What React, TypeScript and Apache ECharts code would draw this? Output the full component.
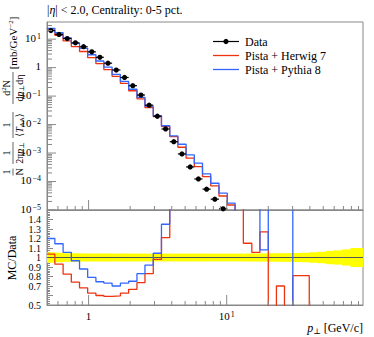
import React, { useEffect, useRef } from 'react';
import * as echarts from 'echarts';

const FONT = "'Liberation Serif', 'DejaVu Serif', serif";

// bin edges in p_perp [GeV/c]
const binEdges = [0.5, 0.57, 0.654, 0.75, 0.86, 0.985, 1.13, 1.29, 1.48, 1.7, 1.95, 2.24, 2.56, 2.94, 3.37, 3.87, 4.43, 5.08, 5.83, 6.68, 7.66, 8.79, 10.1, 11.5, 13.2, 15.2, 17.4, 20.0, 22.9, 26.2, 30.1, 34.5, 39.6, 45.4, 52.1, 59.8, 68.6, 78.7, 90.3, 97];

// main panel values [mb/GeV^-2]
const dataValues = [20.0, 14.7, 10.5, 7.41, 5.41, 3.58, 2.30, 1.43, 0.824, 0.450, 0.232, 0.109, 0.048, 0.0196, 0.0070, 0.0025, 9.3e-4, 3.25e-4, 1.23e-4, 5.4e-5, 2.4e-5, 1.1e-5];
const herwigValues = [20.7, 13.7, 8.66, 5.48, 3.68, 2.24, 1.38, 0.844, 0.490, 0.281, 0.154, 0.080, 0.0398, 0.0192, 8.5e-3, 3.8e-3, 1.6e-3, 6.6e-4, 3.33e-4, 1.49e-4, 7.0e-5, 3.1e-5, 1.5e-5, 6e-6];
const pythiaValues = [24.0, 16.8, 11.1, 7.16, 4.76, 2.83, 1.71, 1.04, 0.577, 0.329, 0.174, 0.0905, 0.0442, 0.0205, 9.1e-3, 4.0e-3, 2.04e-3, 8.6e-4, 4.4e-4, 1.85e-4, 8.7e-5, 3.9e-5, 1.73e-5, 7e-6];

// ratio panel MC/Data
const herwigRatio = [1.035, 0.93, 0.825, 0.74, 0.68, 0.625, 0.60, 0.59, 0.595, 0.625, 0.665, 0.735, 0.83, 0.98, 1.21, 1.52, 1.72, 2.0, 2.7, 2.8, 2.9, 2.8, 3.0, 3.0, 1.15, 1.055, 1.27, 0, 0.70, 0, 0.81, 0.81, 0, 0, 0, 0, 0, 0, 0];
const pythiaRatio = [1.20, 1.145, 1.055, 0.966, 0.879, 0.79, 0.745, 0.73, 0.70, 0.73, 0.75, 0.83, 0.92, 1.045, 1.35, 1.6, 2.2, 2.6, 3.6, 3.4, 3.6, 3.5, 3.5, 3.0, 3.0, 2.0, 1.08, 2.5, 2.5, 2.5, 0, 0, 0, 0, 0, 0, 0, 0, 0];
// relative data uncertainty (yellow band)
const dataRelErr = [0.055, 0.05, 0.046, 0.044, 0.043, 0.042, 0.042, 0.041, 0.041, 0.041, 0.041, 0.041, 0.041, 0.041, 0.041, 0.041, 0.041, 0.041, 0.041, 0.041, 0.041, 0.041, 0.041, 0.041, 0.042, 0.042, 0.043, 0.044, 0.045, 0.046, 0.048, 0.05, 0.055, 0.06, 0.07, 0.075, 0.085, 0.1, 0.1];

// axis tick / label positions
const xLabelValues = [1, 10];
const yLabelExponents = [-5, -4, -3, -2, -1, 0, 1];
const xMajorTicks = [1, 10];
const xMinorTicks = [0.6, 0.7, 0.8, 0.9, 2, 3, 4, 5, 6, 7, 8, 9, 20, 30, 40, 50, 60, 70, 80, 90];
const yMajorDecades = [-5, -4, -3, -2, -1, 0, 1];
const yMinorMultipliers = [2, 3, 4, 5, 6, 7, 8, 9];

const RED = '#EE3311';
const BLUE = '#3366FF';
const Y_MIN = 1e-5;
const Y_MAX = 40;

const hist = (vals: number[]) =>
  vals.map((v, i) => [binEdges[i], v]).concat([[binEdges[vals.length], vals[vals.length - 1]]]);

const expLabel = (n: number) => (n === 0 ? '1' : '10{sup|' + (n < 0 ? '\u2212' : '') + Math.abs(n) + '}');

const decadeFmt = (v: number) => {
  const l = Math.log10(v);
  const n = Math.round(l);
  if (Math.abs(l - n) > 1e-3) return '';
  return expLabel(n);
};

const supRich = {
  sup: { fontSize: 8, fontFamily: FONT, verticalAlign: 'top', lineHeight: 8, padding: [0, 0, 6, 1], color: '#000' },
};

function tickItems(yRef: number, withY: boolean) {
  const items: number[][] = [];
  xMajorTicks.forEach((v) => items.push([v, yRef, 10, 0]));
  xMinorTicks.forEach((v) => items.push([v, yRef, 4, 0]));
  if (withY) {
    yMajorDecades.forEach((d) => {
      items.push([1, Math.pow(10, d) * 1.0001, 9, 1]);
      yMinorMultipliers.forEach((m) => {
        const v = m * Math.pow(10, d);
        if (v < Y_MAX) items.push([1, v, 5, 1]);
      });
    });
  }
  return items;
}

const tickRender = (params: any, api: any) => {
  const cs = params.coordSys;
  const len = api.value(2);
  const kind = api.value(3);
  const p = api.coord([api.value(0), api.value(1)]);
  let shape;
  if (kind === 0) {
    const yb = cs.y + cs.height;
    shape = { x1: p[0], y1: yb, x2: p[0], y2: yb - len };
  } else {
    shape = { x1: cs.x, y1: p[1], x2: cs.x + len, y2: p[1] };
  }
  return { type: 'line', shape, style: { stroke: '#888', lineWidth: 1 } };
};

const smallRich = {
  i: { fontStyle: 'italic', fontSize: 10, fontFamily: FONT },
  sub: { fontSize: 7, fontFamily: FONT, verticalAlign: 'bottom', padding: [4, 0, 0, 0] },
  sup: { fontSize: 7, fontFamily: FONT, verticalAlign: 'top', padding: [0, 0, 4, 0] },
};

function frac(cx: number, num: string, den: string, w: number) {
  return [
    { type: 'text', x: cx, y: -1.2, style: { text: num, fontSize: 10, fontFamily: FONT, fill: '#000', align: 'center', verticalAlign: 'bottom', rich: smallRich } },
    { type: 'line', shape: { x1: cx - w / 2, y1: 0, x2: cx + w / 2, y2: 0 }, style: { stroke: '#000', lineWidth: 0.6 } },
    { type: 'text', x: cx, y: 1.2, style: { text: den, fontSize: 10, fontFamily: FONT, fill: '#000', align: 'center', verticalAlign: 'top', rich: smallRich } },
  ];
}

// main grid geometry
const G_LEFT = 47, G_TOP = 22, G_W = 316, G_H = 188;

// y-axis decade labels: position from the log scale of the main panel
const yLabelGraphics = yLabelExponents.map((n) => {
  const frac01 = (Math.log10(Y_MAX) - n) / (Math.log10(Y_MAX) - Math.log10(Y_MIN));
  return {
    type: 'text', z: 100, x: G_LEFT - 6, y: G_TOP + frac01 * G_H - 1.5,
    style: { text: expLabel(n), fontSize: 11, fontFamily: FONT, fill: '#000', align: 'right', verticalAlign: 'middle', rich: supRich },
  };
});

const option: any = {
  animation: false,
  backgroundColor: '#fff',
  textStyle: { fontFamily: FONT },
  grid: [
    { left: G_LEFT, top: G_TOP, width: G_W, height: G_H, show: true, borderColor: '#888', borderWidth: 1, backgroundColor: 'transparent' },
    { left: G_LEFT, top: 210, width: G_W, height: 95, show: true, borderColor: '#888', borderWidth: 1, backgroundColor: 'transparent' },
  ],
  xAxis: [
    { type: 'log', gridIndex: 0, min: 0.5, max: 97, axisLine: { lineStyle: { color: '#888' } }, axisTick: { show: false }, axisLabel: { show: false }, splitLine: { show: false } },
    {
      type: 'log', gridIndex: 1, min: 0.5, max: 97, axisLine: { lineStyle: { color: '#888' } }, axisTick: { show: false }, splitLine: { show: false },
      axisLabel: { customValues: xLabelValues, formatter: decadeFmt, margin: 5, fontSize: 11, fontFamily: FONT, color: '#000', rich: supRich },
    },
  ],
  yAxis: [
    {
      type: 'log', gridIndex: 0, min: Y_MIN, max: Y_MAX, axisLine: { lineStyle: { color: '#888' } }, axisTick: { show: false }, splitLine: { show: false },
      axisLabel: { show: false },
    },
    {
      type: 'value', gridIndex: 1, min: 0.5, max: 1.5, interval: 0.1, axisLine: { lineStyle: { color: '#888' } },
      axisTick: { inside: true, length: 6, lineStyle: { color: '#888' } },
      minorTick: { show: true, splitNumber: 5, length: 3, lineStyle: { color: '#888' } },
      splitLine: { show: false },
      axisLabel: {
        formatter: (v: number) => (Math.abs(v - 1) < 1e-9 ? '1' : v.toFixed(1)),
        margin: 6, fontSize: 10, lineHeight: 9, fontFamily: FONT, color: '#000', showMinLabel: true, showMaxLabel: false,
      },
    },
  ],
  series: [
    {
      type: 'custom', xAxisIndex: 1, yAxisIndex: 1, z: 1,
      data: dataRelErr.map((e, i) => [binEdges[i], binEdges[i + 1], e]),
      encode: { x: 0, y: 2 },
      renderItem: (params: any, api: any) => {
        const lo = api.value(0), hi = api.value(1), e = api.value(2);
        const a = api.coord([lo, 1 + e]);
        const b = api.coord([hi, 1 - e]);
        return { type: 'rect', shape: { x: a[0], y: a[1], width: b[0] - a[0] + 0.5, height: b[1] - a[1] }, style: { fill: '#ffff00' } };
      },
    },
    {
      type: 'line', xAxisIndex: 1, yAxisIndex: 1, z: 2, symbol: 'none',
      data: [[0.5, 1], [97, 1]], lineStyle: { color: '#555', width: 1 },
    },
    { type: 'line', name: 'herwigRatio', xAxisIndex: 1, yAxisIndex: 1, z: 3, step: 'end', symbol: 'none', data: hist(herwigRatio), lineStyle: { color: RED, width: 1.3 } },
    { type: 'line', name: 'pythiaRatio', xAxisIndex: 1, yAxisIndex: 1, z: 3, step: 'end', symbol: 'none', data: hist(pythiaRatio), lineStyle: { color: BLUE, width: 1.3 } },
    { type: 'line', name: 'Pista + Herwig 7', xAxisIndex: 0, yAxisIndex: 0, z: 3, step: 'end', symbol: 'none', data: hist(herwigValues), lineStyle: { color: RED, width: 1.3 } },
    { type: 'line', name: 'Pista + Pythia 8', xAxisIndex: 0, yAxisIndex: 0, z: 3, step: 'end', symbol: 'none', data: hist(pythiaValues), lineStyle: { color: BLUE, width: 1.3 } },
    {
      type: 'custom', name: 'Data', xAxisIndex: 0, yAxisIndex: 0, z: 4,
      data: dataValues.map((v, i) => [binEdges[i], binEdges[i + 1], v]),
      encode: { x: 0, y: 2 },
      renderItem: (params: any, api: any) => {
        const lo = api.value(0), hi = api.value(1), v = api.value(2);
        const pl = api.coord([lo, v]);
        const ph = api.coord([hi, v]);
        const pc = api.coord([Math.sqrt(lo * hi), v]);
        return {
          type: 'group',
          children: [
            { type: 'line', shape: { x1: pl[0], y1: pl[1], x2: ph[0], y2: ph[1] }, style: { stroke: '#000', lineWidth: 1.2 } },
            { type: 'circle', shape: { cx: pc[0], cy: pc[1], r: 2.6 }, style: { fill: '#000' } },
          ],
        };
      },
    },
    { type: 'custom', xAxisIndex: 0, yAxisIndex: 0, z: 5, data: tickItems(1, true), renderItem: tickRender, silent: true },
    { type: 'custom', xAxisIndex: 1, yAxisIndex: 1, z: 5, data: tickItems(1, false), renderItem: tickRender, silent: true },
  ],
  graphic: [
    ...yLabelGraphics,
    { type: 'text', x: 47, y: 10, style: { text: '|{i|\u03b7}| < 2.0, Centrality: 0-5 pct.', fontSize: 12, fontFamily: FONT, fill: '#000', align: 'left', verticalAlign: 'middle', rich: { i: { fontStyle: 'italic', fontSize: 12, fontFamily: FONT } } } },
    // legend
    { type: 'line', shape: { x1: 213, y1: 41.5, x2: 239, y2: 41.5 }, style: { stroke: '#000', lineWidth: 1.2 } },
    { type: 'circle', shape: { cx: 226, cy: 41.5, r: 2.6 }, style: { fill: '#000' } },
    { type: 'line', shape: { x1: 213, y1: 55.5, x2: 239, y2: 55.5 }, style: { stroke: RED, lineWidth: 1.3 } },
    { type: 'line', shape: { x1: 213, y1: 69.5, x2: 239, y2: 69.5 }, style: { stroke: BLUE, lineWidth: 1.3 } },
    { type: 'text', x: 245, y: 41.5, style: { text: 'Data', fontSize: 12, fontFamily: FONT, fill: '#000', verticalAlign: 'middle' } },
    { type: 'text', x: 245, y: 55.5, style: { text: 'Pista + Herwig 7', fontSize: 12, fontFamily: FONT, fill: '#000', verticalAlign: 'middle' } },
    { type: 'text', x: 245, y: 69.5, style: { text: 'Pista + Pythia 8', fontSize: 12, fontFamily: FONT, fill: '#000', verticalAlign: 'middle' } },
    // axis titles
    { type: 'text', x: 363, y: 328, style: { text: '{i|p}{sub|\u22a5} [GeV/c]', fontSize: 12, fontFamily: FONT, fill: '#000', align: 'right', verticalAlign: 'middle', rich: { i: { fontStyle: 'italic', fontSize: 12, fontFamily: FONT }, sub: { fontSize: 8, fontFamily: FONT, verticalAlign: 'bottom', padding: [6, 0, 0, 0] } } } },
    { type: 'text', x: 12, y: 258, rotation: Math.PI / 2, style: { text: 'MC/Data', fontSize: 12, fontFamily: FONT, fill: '#000', align: 'center', verticalAlign: 'middle' } },
    {
      type: 'group', x: 13, y: 100, rotation: Math.PI / 2,
      children: [
        ...frac(-72, '1', 'N', 7),
        ...frac(-53, '1', '2\u03c0{i|p}{sub|\u22a5}', 22),
        ...frac(-25, '1', '\u27e8{i|T}{sub|AA}\u27e9', 26),
        ...frac(12, 'd{sup|2}N', 'd{i|p}{sub|\u22a5}d\u03b7', 32),
        { type: 'text', x: 57, y: 0, style: { text: '[mb/GeV{sup|\u22122}]', fontSize: 11, fontFamily: FONT, fill: '#000', align: 'center', verticalAlign: 'middle', rich: { sup: { fontSize: 7, fontFamily: FONT, verticalAlign: 'top', padding: [0, 0, 4, 0] } } } },
      ],
    },
  ],
};

export default function App() {
  const ref = useRef<HTMLDivElement>(null);
  useEffect(() => {
    const chart = echarts.init(ref.current!, null, { renderer: 'svg' });
    chart.setOption(option);
    return () => chart.dispose();
  }, []);
  return <div ref={ref} style={{ width: 374, height: 337, position: 'absolute', left: 0, top: 0 }} />;
}
